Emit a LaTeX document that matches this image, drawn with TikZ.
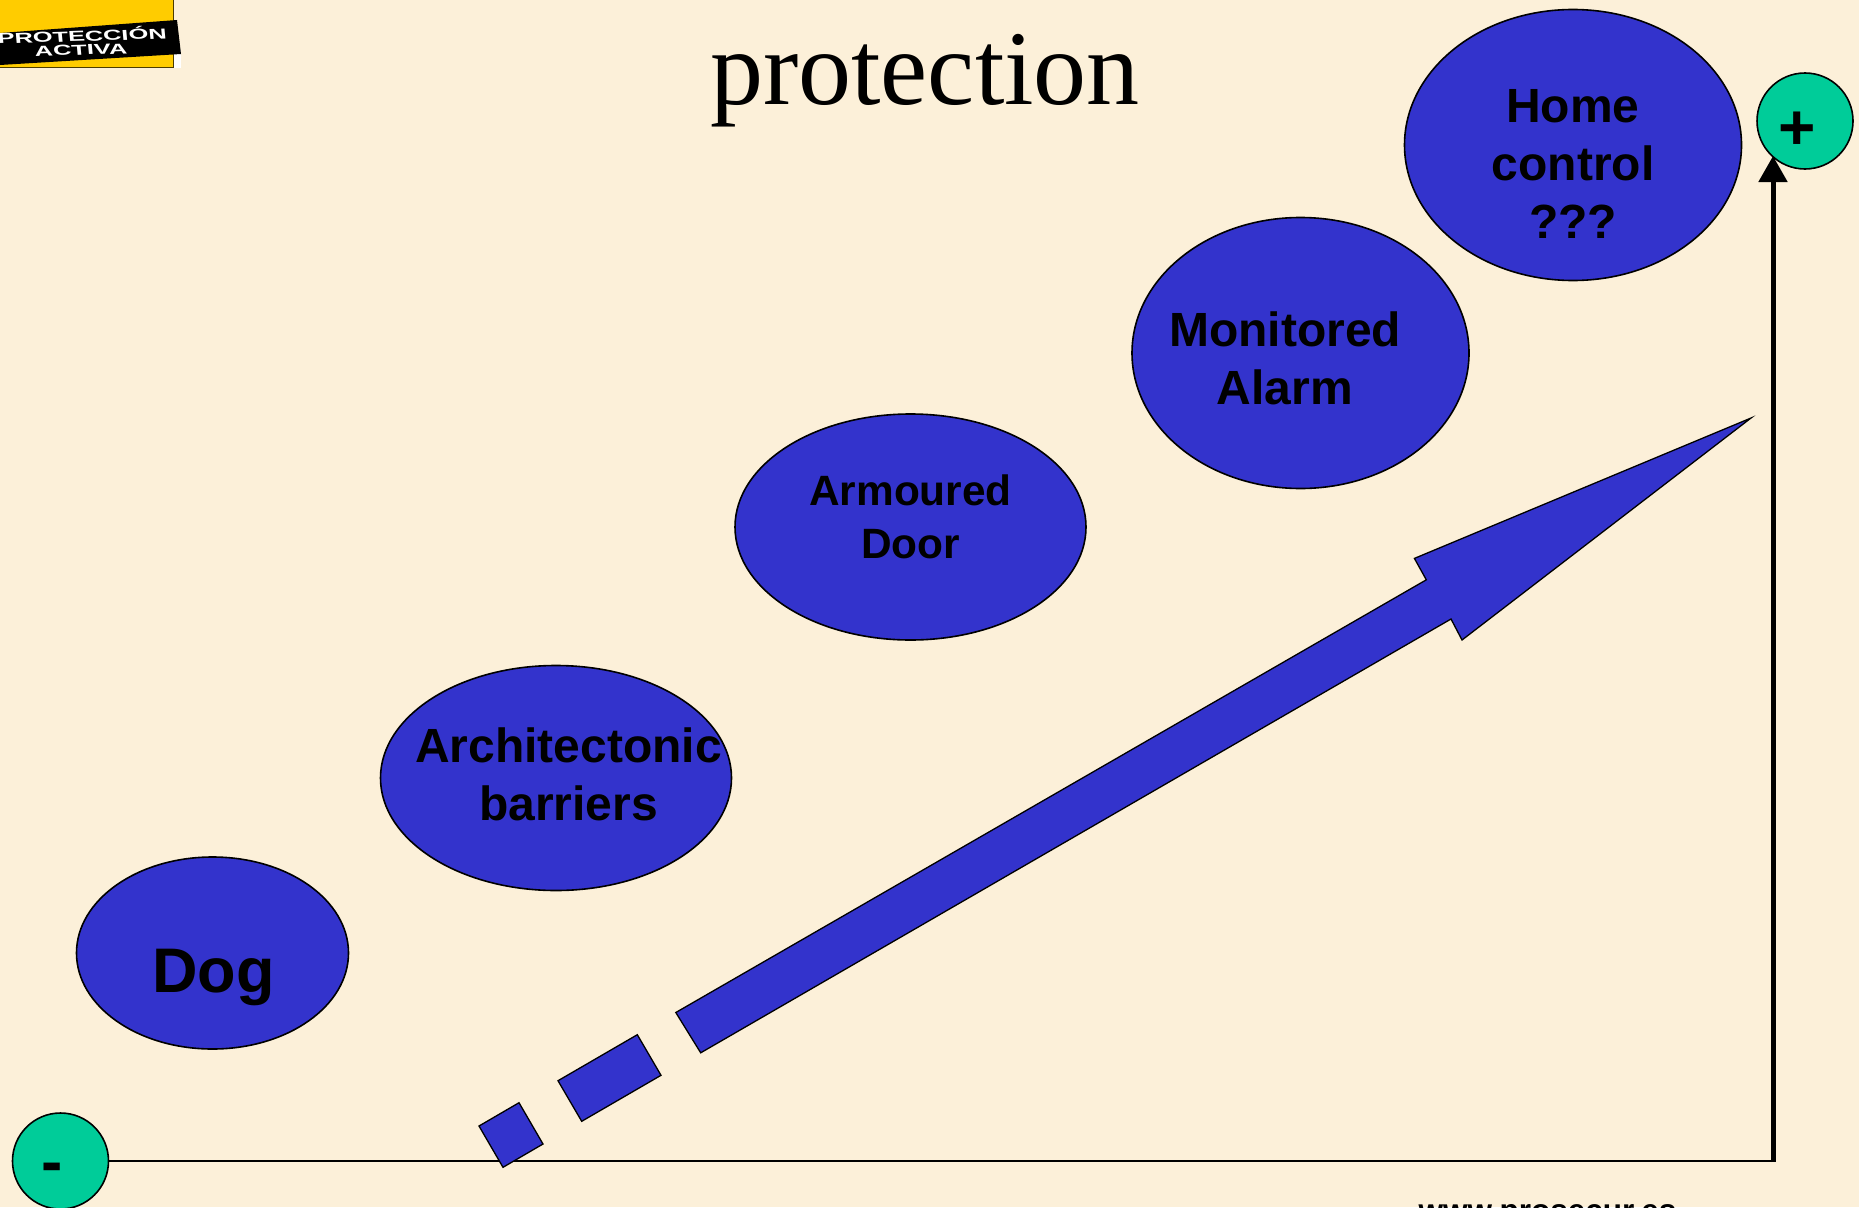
\documentclass[tikz,border=0pt]{standalone}
\usepackage{fontspec}
\setmainfont{Liberation Serif}
\newfontfamily\labelfont{Liberation Sans}
\usetikzlibrary{positioning,calc,shapes.geometric,arrows.meta}
\definecolor{parchment}{HTML}{FCF0D9}
\definecolor{stepblue}{HTML}{3333CC}
\definecolor{endgreen}{HTML}{00CC99}
\definecolor{logoyellow}{HTML}{FFCC00}
\tikzset{
	stepnode/.style={shape=ellipse, inner sep=0pt, draw=black, line width=1.6pt, fill=stepblue},
	endnode/.style={shape=circle, inner sep=0pt, minimum size=96pt, draw=black, line width=1.6pt, fill=endgreen},
	steptext/.style={align=center, inner sep=0pt, font=\labelfont\bfseries\fontsize{48}{58}\selectfont},
	arrowpart/.style={draw=black, line width=1.3pt, fill=stepblue, line join=miter},
	logotext/.style={inner sep=0pt, text=white, xscale=1.75, rotate=3, font=\labelfont\bfseries\fontsize{14.5}{14.5}\selectfont}
}

\begin{document}
\begin{tikzpicture}[x=1pt, y=-1pt]
	\useasboundingbox (0, 0) rectangle (1859, 1207);
	\clip (0, 0) rectangle (1859, 1207);
	\fill[color=parchment] (0, 0) rectangle (1859, 1207);

	% logo
	\fill[color=white] (170, 50) rectangle (181, 68);
	\fill[color=logoyellow, draw=black!70!logoyellow, line width=1pt] (-2, -2) rectangle (173, 67);
	\fill[color=black] (0, 33) -- (177, 20) -- (181, 54) -- (0, 65) --cycle;
	\node[logotext] (logotop) at (82, 35) {PROTECCIÓN};
	\node[logotext] (logobottom) at (81, 50) {ACTIVA};

	\node[inner sep=0pt, font=\fontsize{106}{106}\selectfont] (title) at (925, 81) {protection};

	% axes
	\node[endnode] (minus) at (60.5, 1161) {};
	\node[endnode] (plus) at (1805, 121) {};
	\coordinate (corner) at (1773, 1161);
	\coordinate (axistip) at (1773, 156);
	\draw[line width=2pt] (minus) -- (corner);
	\draw[line width=5pt, -{Triangle[length=26pt, width=28pt]}] ($(corner) + (0, 1)$) -- (axistip);
	\node[inner sep=0pt, font=\labelfont\bfseries\fontsize{64}{64}\selectfont] (pluslabel) at (1797, 131) {+};
	\node[inner sep=0pt, font=\labelfont\bfseries\fontsize{64}{64}\selectfont] (minuslabel) at (52, 1173) {-};

	% steps
	\node[stepnode, minimum width=272pt, minimum height=192pt] (dog) at (212.5, 953) {};
	\node[stepnode, minimum width=351pt, minimum height=225pt] (barriers) at (556, 778) {};
	\node[stepnode, minimum width=351pt, minimum height=226pt] (door) at (910.5, 527) {};
	\node[stepnode, minimum width=337pt, minimum height=271pt] (alarm) at (1300.5, 353) {};
	\node[stepnode, minimum width=337pt, minimum height=271pt] (home) at (1573, 145) {};

	\node[steptext, font=\labelfont\bfseries\fontsize{63}{63}\selectfont] (doglabel) at (213.5, 977) {Dog};
	\node[steptext] (barrierslabel) at (568.5, 774) {Architectonic\\barriers};
	\node[steptext, font=\labelfont\bfseries\fontsize{42.4}{53}\selectfont] (doorlabel) at (910.5, 517) {Armoured\\Door};
	\node[steptext] (alarmlabel) at (1285, 358) {Monitored\\Alarm};
	\node[steptext] (homelabel) at (1573, 164) {Home\\control\\???};

	% growing arrow
	\draw[arrowpart] (479, 1126) -- (519, 1102.7) -- (543, 1144) -- (503, 1167.3) --cycle;
	\draw[arrowpart] (558, 1080.7) -- (637.3, 1034.7) -- (661, 1075.3) -- (581.7, 1121.3) --cycle;
	\draw[arrowpart] (675.8, 1012.5) -- (1426.3, 579.8) -- (1414.4, 558.4) -- (1751, 418) -- (1462, 640) -- (1451, 619) -- (700.7, 1052.8) --cycle;

	\node[inner sep=0pt, anchor=base, font=\labelfont\bfseries\fontsize{31.5}{31.5}\selectfont] (website) at (1547.5, 1221.5) {www.prosecur.es};
\end{tikzpicture}
\end{document}
